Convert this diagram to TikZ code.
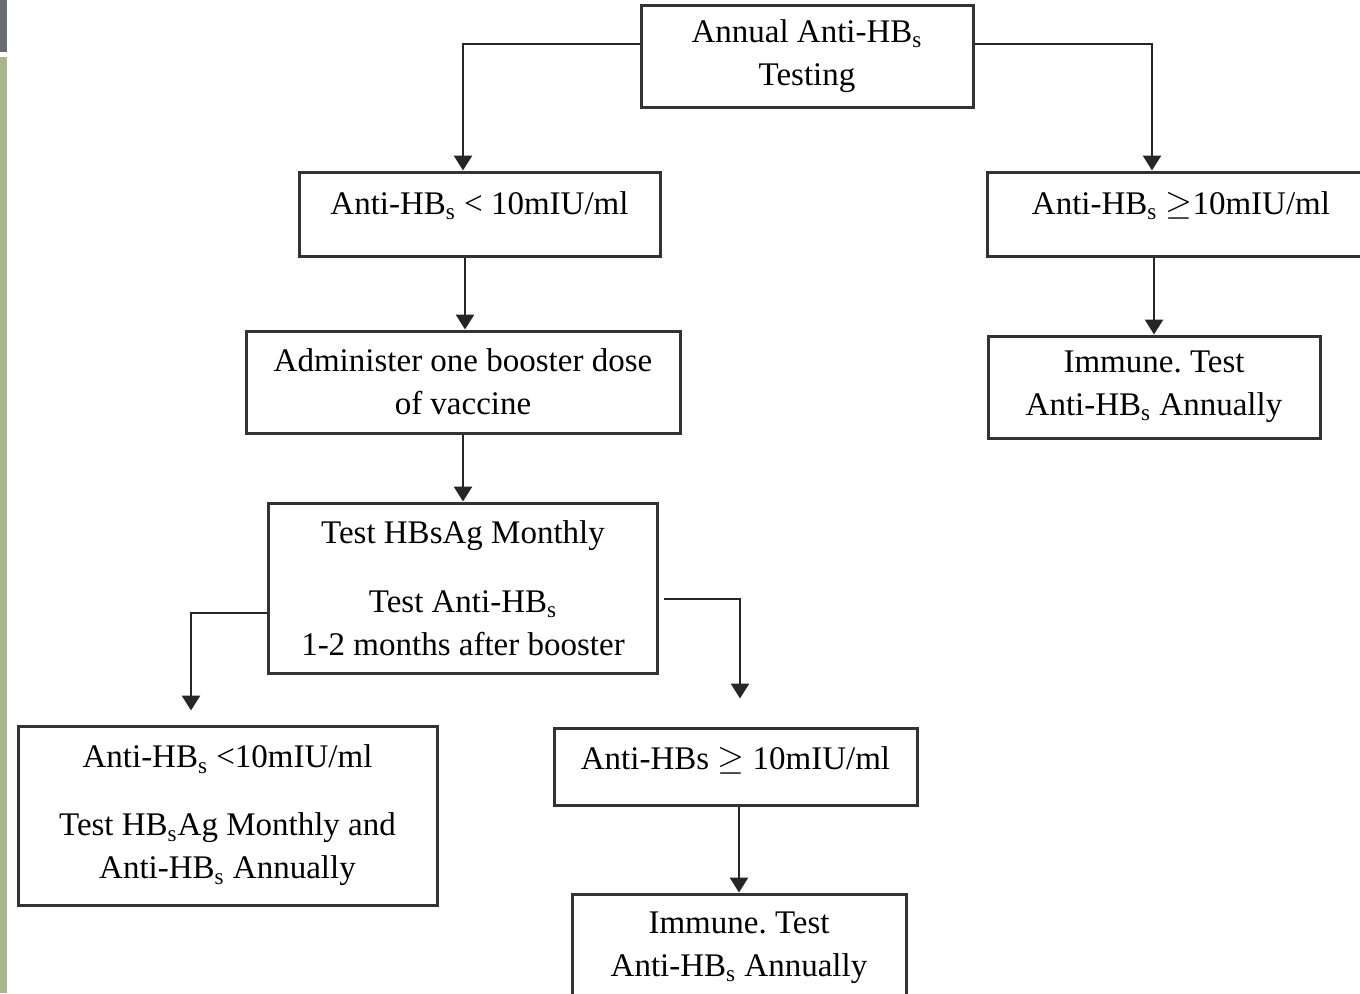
\documentclass[tikz,border=0pt]{standalone}
\usepackage{fontspec}
\setmainfont{Liberation Serif}
\usetikzlibrary{arrows.meta, positioning}
\definecolor{boxline}{HTML}{333333}
\definecolor{sidegray}{HTML}{6A6A72}
\definecolor{sidegreen}{HTML}{A7B68A}

\begin{document}
\frenchspacing
\begin{tikzpicture}[x=0.5pt, y=-0.5pt,
  block/.style={rectangle, draw=boxline, line width=1.5pt, inner sep=0pt, font=\fontsize{16.5}{21.5}\selectfont, align=center},
  topline/.style={text height=12pt, text depth=12pt},
  arrow/.style={-{Triangle[width=9pt, length=7.5pt]}, line width=1.4pt, black!85}]

\useasboundingbox (0,0) rectangle (1360,993);
\fill[sidegray] (0,0) rectangle (7,52);
\fill[sidegreen] (0,57) rectangle (7,993);

\node[block, minimum width=166pt, minimum height=51pt] (test) at (807,56) {Annual Anti-HB\textsubscript{s}\\Testing};
\node[block, topline, minimum width=180.5pt, minimum height=42pt] (low) at (479.5,214) {Anti-HB\textsubscript{s} < 10mIU/ml};
\node[block, topline, minimum width=194pt, minimum height=42pt] (high) at (1181,214) {Anti-HB\textsubscript{s} $\geq$10mIU/ml};
\draw[arrow] ([yshift=6pt]test.west) -| ([xshift=-8.25pt]low.north);
\draw[arrow] ([yshift=6pt]test.east) -| ([xshift=-14.5pt]high.north);

\node[block, minimum width=217pt, minimum height=51pt] (boost) at (463,382) {Administer one booster dose\\of vaccine};
\node[block, minimum width=166pt, minimum height=51pt] (immune1) at (1154,387) {Immune. Test\\Anti-HB\textsubscript{s} Annually};
\draw[arrow] ([xshift=-7.25pt]low.south) -- ([xshift=-7.25pt]low.south |- boost.north);
\draw[arrow] (immune1.north |- high.south) -- (immune1.north);

\node[block, minimum width=194.5pt, minimum height=85pt, below=33.5pt of boost] (monthly) {Test HBsAg Monthly\\[13pt]Test Anti-HB\textsubscript{s}\\1-2 months after booster};
\draw[arrow] (boost) -- (monthly);

\node[block, minimum width=209.5pt, minimum height=89.5pt] (low2) at (227.5,815.5) {Anti-HB\textsubscript{s} <10mIU/ml\\[12.5pt]Test HB\textsubscript{s}Ag Monthly and\\Anti-HB\textsubscript{s} Annually};
\node[block, minimum width=181.5pt, minimum height=38.5pt, text height=12pt, text depth=9pt] (high2) at (735.5,766.5) {Anti-HBs $\geq$ 10mIU/ml};
\draw[arrow] ([yshift=-12.5pt]monthly.west) -| ([xshift=-18.25pt, yshift=7pt]low2.north);
\draw[arrow] ([xshift=2.5pt, yshift=-5.5pt]monthly.east) -| ([xshift=2.25pt, yshift=14pt]high2.north);

\node[block, minimum width=167pt, minimum height=54pt, below=43pt of high2, xshift=1.75pt] (immune2) {Immune. Test\\Anti-HB\textsubscript{s} Annually};
\draw[arrow] (high2.south -| immune2.north) -- (immune2.north);
\end{tikzpicture}
\end{document}
